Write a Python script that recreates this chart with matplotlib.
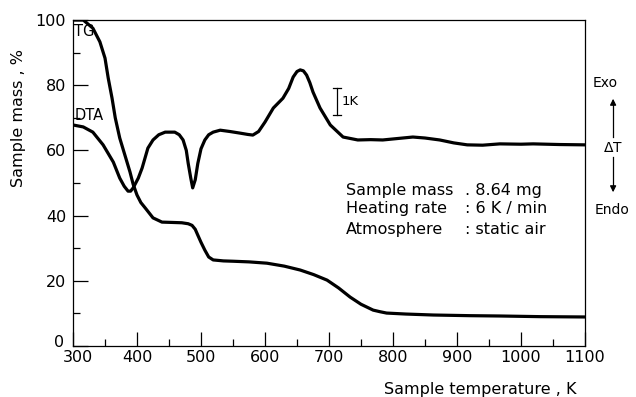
import matplotlib
matplotlib.use('Agg')
import matplotlib.pyplot as plt
import matplotlib.transforms as mtransforms
from matplotlib.ticker import MultipleLocator

# TG curve (temperature K, sample mass %)
tg_T = [300, 316, 331, 342, 350, 355, 361, 366, 373, 381, 389, 394, 400, 406, 413, 425, 439,
        455, 470, 480, 486, 491, 495, 500, 506, 512, 519, 535, 550, 575, 603, 630, 655, 676,
        697, 715, 733, 750, 769, 780, 790, 820, 863, 920, 967, 1030, 1100]
tg_m = [100, 100, 97.5, 93.3, 88.3, 82.2, 76.0, 70.0, 63.8, 58.6, 53.4, 49.6, 46.3, 44.0, 42.3, 39.3, 38.0,
        37.9, 37.8, 37.5, 37.0, 35.8, 34.0, 31.8, 29.4, 27.3, 26.4, 26.1, 26.0, 25.8, 25.4, 24.5, 23.3, 21.9,
        20.2, 17.8, 15.0, 12.8, 11.0, 10.5, 10.1, 9.8, 9.5, 9.3, 9.2, 9.0, 8.9]

# DTA trace (drawn on the same scale)
dta_T = [300, 316, 331, 347, 363, 373, 380, 386, 390, 394, 402, 408, 417, 425, 434, 444, 459,
         466, 472, 477, 480, 484, 487, 491, 495, 500, 506, 512, 519, 530, 545, 561, 573, 581, 590, 600,
         613, 628, 637, 644, 650, 655, 660, 665, 670, 675, 686, 702, 722, 745, 765, 784, 810, 831,
         850, 873, 895, 916, 940, 967, 1000, 1019, 1060, 1100]
dta_v = [67.8, 67.2, 65.6, 61.7, 56.4, 51.5, 49.0, 47.5, 47.5, 48.5, 51.5, 54.6, 60.7, 63.2, 64.8, 65.6, 65.6,
         64.8, 63.2, 60.0, 56.0, 51.5, 48.5, 51.0, 56.0, 60.5, 63.2, 64.8, 65.6, 66.2, 65.8, 65.3, 64.9, 64.7, 65.8, 68.7,
         73.0, 76.0, 79.0, 82.5, 84.2, 84.7, 84.4, 83.1, 80.8, 77.9, 73.0, 67.8, 64.1, 63.2, 63.3, 63.2, 63.7, 64.1,
         63.8, 63.2, 62.3, 61.7, 61.6, 62.0, 61.9, 62.0, 61.8, 61.7]

x_ticks = [300, 400, 500, 600, 700, 800, 900, 1000, 1100]
y_ticks = [0, 20, 40, 60, 80, 100]

info_keys = ['Sample mass', 'Heating rate', 'Atmosphere']
info_vals = ['. 8.64 mg', ': 6 K / min', ': static air']
info_y = [47.8, 42.3, 35.6]

fig = plt.figure(figsize=(6.36, 3.97), dpi=100)
ax = fig.add_axes([0.1148, 0.1285, 0.805, 0.8211])

ax.plot(tg_T, tg_m, color='black', lw=2.3, solid_capstyle='round', solid_joinstyle='round')
ax.plot(dta_T, dta_v, color='black', lw=2.3, solid_capstyle='round', solid_joinstyle='round')

ax.set_xlim(300, 1100)
ax.set_ylim(0, 100)
ax.set_xticks(x_ticks)
ax.set_yticks(y_ticks)
ax.xaxis.set_minor_locator(MultipleLocator(50))
ax.yaxis.set_minor_locator(MultipleLocator(10))
ax.tick_params(which='both', direction='in', top=False, right=False, width=0.9, labelsize=11.5)
ax.tick_params(axis='x', which='major', length=10, pad=3)
ax.tick_params(axis='y', which='major', length=11, pad=5)
ax.tick_params(which='minor', length=5)
for s in ax.spines.values():
    s.set_linewidth(0.9)

# the corner labels sit apart in the original: nudge "300" right and "0" up
xlab0 = ax.get_xticklabels()[0]
xlab0.set_transform(xlab0.get_transform() + mtransforms.ScaledTranslation(5 / 100, 0, fig.dpi_scale_trans))
ylab0 = ax.get_yticklabels()[0]
ylab0.set_transform(ylab0.get_transform() + mtransforms.ScaledTranslation(-2 / 100, 5 / 100, fig.dpi_scale_trans))

# curve labels
ax.text(301, 96.5, 'TG', fontsize=10.5, va='center', ha='left')
ax.text(302, 70.8, 'DTA', fontsize=10.5, va='center', ha='left')

# 1 K scale bar
ax.plot([713, 713], [71, 79], color='black', lw=0.9)
ax.plot([707, 719], [79, 79], color='black', lw=0.9)
ax.plot([707, 719], [71, 71], color='black', lw=0.9)
ax.text(719, 75, '1K', fontsize=9.5, va='center', ha='left')

# experimental conditions
for k, v, y in zip(info_keys, info_vals, info_y):
    ax.text(726, y, k, fontsize=11.5, va='center', ha='left')
    ax.text(913, y, v, fontsize=11.5, va='center', ha='left')

# Exo / Endo indicator outside the axes
fig.text(0.951, 1 - 83 / 397, 'Exo', fontsize=10, ha='center', va='center')
fig.text(0.964, 1 - 148 / 397, r'$\Delta$T', fontsize=10, ha='center', va='center')
fig.text(0.962, 1 - 210 / 397, 'Endo', fontsize=10, ha='center', va='center')
fig.add_artist(plt.Line2D([0.964, 0.964], [1 - 137 / 397, 1 - 103 / 397], color='black', lw=0.9))
fig.add_artist(plt.Line2D([0.964, 0.964], [1 - 157 / 397, 1 - 188 / 397], color='black', lw=0.9))
ax.annotate('', xy=(0.964, 1 - 96 / 397), xytext=(0.964, 1 - 106 / 397), xycoords='figure fraction',
            arrowprops=dict(arrowstyle='-|>', color='black', lw=0.9, mutation_scale=9))
ax.annotate('', xy=(0.964, 1 - 195 / 397), xytext=(0.964, 1 - 185 / 397), xycoords='figure fraction',
            arrowprops=dict(arrowstyle='-|>', color='black', lw=0.9, mutation_scale=9))

ax.text(0.795, -0.135, 'Sample temperature , K', transform=ax.transAxes, fontsize=11.5,
        ha='center', va='center')
fig.text(0.029, 1 - 118 / 397, 'Sample mass , %', rotation=90, fontsize=11.5, ha='center', va='center')

fig.savefig('out.png', dpi=100)
